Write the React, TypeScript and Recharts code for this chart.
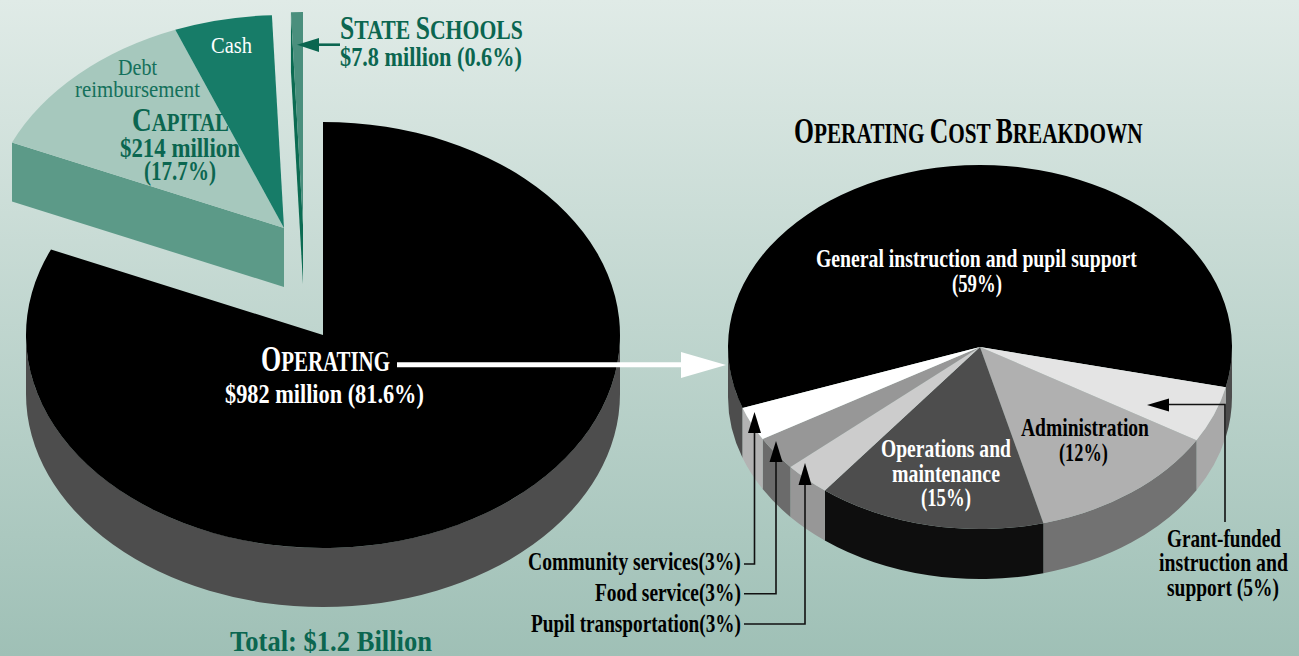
import { PieChart, Pie } from "recharts";

const WIDTH = 1299;
const HEIGHT = 656;

// State budget split, $ million. Capital is debt + cash.
const budgetNames = ["Operating", "Debt reimbursement", "Cash", "State schools"];
const budgetMillions = [982, 150, 64, 7.8];

// Operating cost split, percent, clockwise from the back-left edge.
const costNames = [
  "General instruction and pupil support",
  "Grant-funded instruction and support",
  "Administration",
  "Operations and maintenance",
  "Pupil transportation",
  "Food service",
  "Community services",
];
const costShares = [59, 5, 12.4, 14.6, 3, 3, 3];

const budgetRows = budgetNames.map((name, i) => ({ name, value: budgetMillions[i] }));
const costRows = costNames.map((name, i) => ({ name, value: costShares[i] }));

const INK = "#0b6650";
const FACES: Record<string, { top: string; wall: string }> = {
  Operating: { top: "#000000", wall: "#4d4d4d" },
  "Debt reimbursement": { top: "#a6c8bd", wall: "#5c9a88" },
  Cash: { top: "#177c68", wall: "#5c9a88" },
  "State schools": { top: "#4a8f7d", wall: "#0b6b52" },
  "General instruction and pupil support": { top: "#000000", wall: "#4d4d4d" },
  "Grant-funded instruction and support": { top: "#e4e4e4", wall: "#a9a9a9" },
  Administration: { top: "#b0b0b0", wall: "#727272" },
  "Operations and maintenance": { top: "#4d4d4d", wall: "#0e0e0e" },
  "Pupil transportation": { top: "#cccccc", wall: "#979797" },
  "Food service": { top: "#979797", wall: "#6b6b6b" },
  "Community services": { top: "#ffffff", wall: "#b3b3b3" },
};

// Pulled-out slices, as an offset of the pie centre.
const SHIFT: Record<string, [number, number]> = {
  "Debt reimbursement": [-39, -107],
  Cash: [-39, -107],
  "State schools": [-20, -110],
};
const CUT_WALL = ["Debt reimbursement", "State schools"];

/** Recharts pies are round, so squash each sector to an ellipse and hang a wall under its front rim. */
function tiltedSector(yRatio: number, depth: number) {
  return (props: any) => {
    const name: string = props.name ?? props.payload?.name;
    const [dx, dy] = SHIFT[name] ?? [0, 0];
    const cx = props.cx + dx;
    const cy = props.cy + dy;
    const rx = props.outerRadius;
    const ry = rx * yRatio;
    const at = (deg: number): [number, number] => [
      cx + rx * Math.cos((deg * Math.PI) / 180),
      cy - ry * Math.sin((deg * Math.PI) / 180),
    ];
    const { startAngle: start, endAngle: end } = props;
    const large = start - end > 180 ? 1 : 0;
    const [sx, sy] = at(start);
    const [ex, ey] = at(end);
    const face = FACES[name];

    const walls: string[] = [];
    if (SHIFT[name]) {
      if (CUT_WALL.includes(name)) {
        walls.push(`M${cx} ${cy}L${sx} ${sy}L${sx} ${sy + depth}L${cx} ${cy + depth}Z`);
      }
    } else {
      for (const k of [-1, 0, 1]) {
        const a = Math.min(start, 360 * k);
        const b = Math.max(end, 360 * k - 180);
        if (a <= b) continue;
        const [ax, ay] = at(a);
        const [bx, by] = at(b);
        walls.push(
          `M${ax} ${ay}A${rx} ${ry} 0 0 1 ${bx} ${by}L${bx} ${by + depth}A${rx} ${ry} 0 0 0 ${ax} ${ay + depth}Z`,
        );
      }
    }
    return (
      <g>
        {walls.map((d) => (
          <path key={d} d={d} fill={face.wall} />
        ))}
        <path d={`M${cx} ${cy}L${sx} ${sy}A${rx} ${ry} 0 ${large} 1 ${ex} ${ey}Z`} fill={face.top} />
      </g>
    );
  };
}

const SERIF = "'Liberation Serif', serif";
const ruler = document.createElement("canvas").getContext("2d")!;

type Part = [string, number];

/** Big first letter, the rest in small capitals. */
function caps(words: string[], big: number, small: number): Part[] {
  return words.flatMap((w, i): Part[] => [
    [w[0], big],
    [w.slice(1) + (i < words.length - 1 ? " " : ""), small],
  ]);
}

/** Condensed serif line: the print's type is narrower than Liberation, so set it at the size that
 *  fills x0..x1 and stretch it upward to the height it should have. */
function Line({ x0, x1, y, size, fill, bold = true, parts, children }: any) {
  const pieces: Part[] = parts ?? [[children, size]];
  const weight = bold ? 700 : 400;
  const natural = pieces.reduce((sum, [text, s]) => {
    ruler.font = `${weight} ${s}px 'Liberation Serif'`;
    return sum + ruler.measureText(text).width;
  }, 0);
  const k = (x1 - x0) / natural;
  return (
    <text
      transform={`translate(${x0} ${y}) scale(1 ${1 / k})`}
      fill={fill}
      fontFamily={SERIF}
      fontWeight={weight}
      fontSize={size * k}
      style={{ whiteSpace: "pre" }}
    >
      {pieces.map(([text, s], i) => (
        <tspan key={i} fontSize={s * k}>
          {text}
        </tspan>
      ))}
    </text>
  );
}

function Pointer({ d, head }: { d: string; head: string }) {
  return (
    <g>
      <path d={d} fill="none" stroke="#111" strokeWidth={1.6} />
      <path d={head} fill="#000" />
    </g>
  );
}

function Notes() {
  return (
    <svg width={WIDTH} height={HEIGHT} style={{ position: "absolute", left: 0, top: 0 }}>
      <Line x0={340} x1={523} y={39} size={28} fill={INK} parts={caps(["STATE", "SCHOOLS"], 33, 28)} />
      <Line x0={340} x1={522} y={66} size={27} fill={INK}>$7.8 million (0.6%)</Line>
      <path d="M340 44.7H318" stroke={INK} strokeWidth={2.6} />
      <path d="M297 44.7L319 38V52Z" fill={INK} />

      <Line x0={211} x1={252} y={52.5} size={23} fill="#ffffff" bold={false}>Cash</Line>
      <Line x0={118} x1={157} y={75} size={24} fill="#14705b" bold={false}>Debt</Line>
      <Line x0={75} x1={200} y={97} size={24} fill="#14705b" bold={false}>reimbursement</Line>
      <Line x0={132} x1={229} y={131} size={28} fill={INK} parts={caps(["CAPITAL"], 34, 26)} />
      <Line x0={120} x1={240} y={157} size={27} fill={INK}>$214 million</Line>
      <Line x0={144} x1={216} y={180} size={27} fill={INK}>(17.7%)</Line>

      <Line x0={261} x1={390} y={371} size={28} fill="#ffffff" parts={caps(["OPERATING"], 36, 29)} />
      <Line x0={225} x1={424} y={402.5} size={27} fill="#ffffff">$982 million (81.6%)</Line>
      <path d="M397 364.7H682" stroke="#ffffff" strokeWidth={5} />
      <path d="M681 352L726 365L681 378Z" fill="#ffffff" />

      <Line x0={794} x1={1143} y={142.7} size={28} fill="#000000" parts={caps(["OPERATING", "COST", "BREAKDOWN"], 35, 29)} />
      <Line x0={816} x1={1137} y={266.5} size={26} fill="#ffffff">General instruction and pupil support</Line>
      <Line x0={952} x1={1002} y={291.5} size={26} fill="#ffffff">(59%)</Line>

      <Line x0={1021} x1={1149} y={436} size={26} fill="#000000">Administration</Line>
      <Line x0={1059} x1={1108} y={461} size={26} fill="#000000">(12%)</Line>
      <Line x0={881} x1={1011} y={457} size={26} fill="#ffffff">Operations and</Line>
      <Line x0={892} x1={1000} y={481.5} size={26} fill="#ffffff">maintenance</Line>
      <Line x0={921} x1={971} y={506} size={26} fill="#ffffff">(15%)</Line>

      <Line x0={1167} x1={1281} y={546.7} size={25} fill="#000000">Grant-funded</Line>
      <Line x0={1159} x1={1288} y={571} size={25} fill="#000000">instruction and</Line>
      <Line x0={1167} x1={1279} y={596} size={25} fill="#000000">support (5%)</Line>

      <Line x0={528} x1={741} y={570} size={25} fill="#000000">Community services(3%)</Line>
      <Line x0={595} x1={741} y={600.5} size={25} fill="#000000">Food service(3%)</Line>
      <Line x0={531} x1={741} y={631.5} size={25} fill="#000000">Pupil transportation(3%)</Line>

      <Line x0={230} x1={432} y={651} size={30} fill={INK}>Total: $1.2 Billion</Line>

      <Pointer d="M1165 404.5H1225V522" head="M1147 405L1169 398.5V411.5Z" />
      <Pointer d="M754.5 430V564H744" head="M754.5 412L761 433H748Z" />
      <Pointer d="M776 460V593.7H744" head="M776 441L782.5 462H769.5Z" />
      <Pointer d="M805 482V624H744" head="M805 463L811.5 485H798.5Z" />
    </svg>
  );
}

export default function App() {
  return (
    <div
      style={{
        position: "fixed",
        left: 0,
        top: 0,
        width: WIDTH,
        height: HEIGHT,
        overflow: "hidden",
        background: "linear-gradient(180deg, #e0ebe7 0%, #9fc0b6 100%)",
      }}
    >
      <PieChart width={WIDTH} height={HEIGHT} margin={{ top: 0, right: 0, bottom: 0, left: 0 }}>
        <Pie
          data={budgetRows}
          dataKey="value"
          nameKey="name"
          cx={323}
          cy={335}
          outerRadius={297}
          startAngle={90}
          endAngle={-270}
          stroke="none"
          isAnimationActive={false}
          shape={tiltedSector(213 / 297, 59)}
        />
        <Pie
          data={costRows}
          dataKey="value"
          nameKey="name"
          cx={980}
          cy={347}
          outerRadius={252}
          startAngle={199.6}
          endAngle={-160.4}
          stroke="none"
          isAnimationActive={false}
          shape={tiltedSector(182 / 252, 50)}
        />
      </PieChart>
      <Notes />
    </div>
  );
}
